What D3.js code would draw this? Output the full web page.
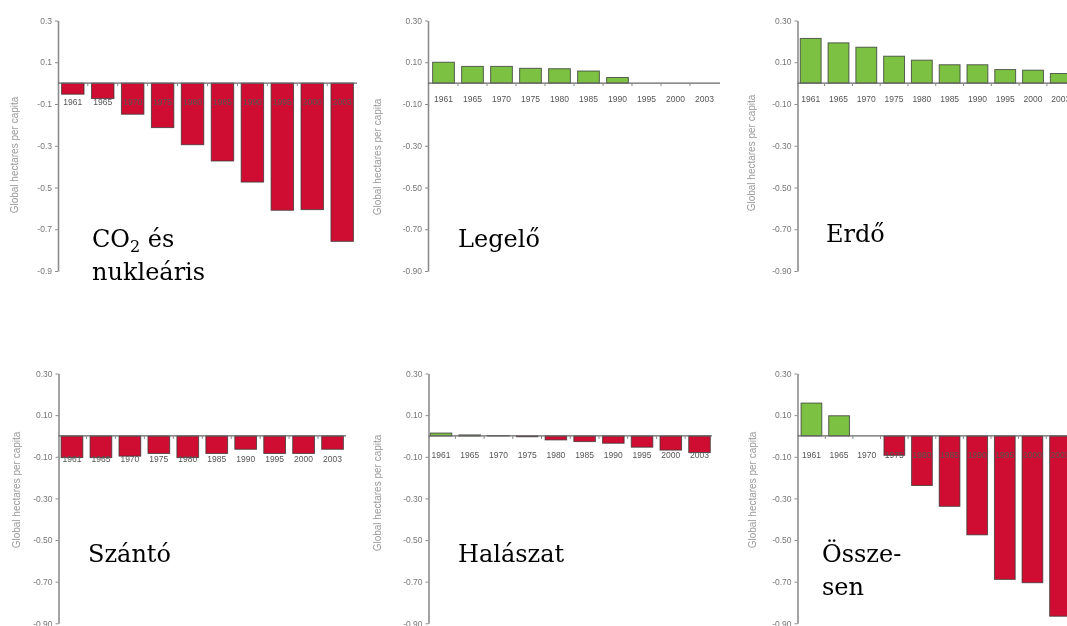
<!DOCTYPE html>
<html>
<head>
<meta charset="utf-8">
<script src="https://cdn.jsdelivr.net/npm/d3@7"></script>
<style>
  html, body { margin: 0; padding: 0; background: #fff; }
  svg { display: block; }
</style>
</head>
<body>
<svg id="chart" width="1067" height="626"></svg>
<script>
// Change in per-capita footprint by component, global hectares per capita
const years = ["1961", "1965", "1970", "1975", "1980", "1985", "1990", "1995", "2000", "2003"];
const yTicks = [0.3, 0.1, -0.1, -0.3, -0.5, -0.7, -0.9];
const axisTitle = "Global hectares per capita";

const co2Nuclear = [-0.053, -0.074, -0.149, -0.213, -0.295, -0.373, -0.474, -0.609, -0.606, -0.758];
const grazing    = [0.100, 0.080, 0.080, 0.071, 0.069, 0.058, 0.027, 0, 0, 0];
const forest     = [0.214, 0.193, 0.172, 0.129, 0.110, 0.088, 0.088, 0.065, 0.062, 0.046];
const cropland   = [-0.104, -0.104, -0.097, -0.084, -0.104, -0.084, -0.064, -0.084, -0.084, -0.064];
const fishing    = [0.014, 0.005, 0.002, -0.004, -0.019, -0.027, -0.035, -0.054, -0.068, -0.080];
const total      = [0.158, 0.097, 0, -0.093, -0.238, -0.338, -0.475, -0.689, -0.705, -0.866];

const captions = [
  ["CO₂ és", "nukleáris"],
  ["Legelő"],
  ["Erdő"],
  ["Szántó"],
  ["Halászat"],
  ["Össze-", "sen"]
];

const RED = "#cf1030";
const GREEN = "#7cc143";

// layout of the six small charts
const layout = [
  { values: co2Nuclear, x0: 58,    x1: 357,  top: 20.5,  bottom: 271,   fmt: ".1f", padOuter: 0.12, titleX: 15,  titleY: 155, yearDy: 20, capX: 92,  capY: 247 },
  { values: grazing,    x0: 428,   x1: 720,  top: 20.5,  bottom: 271,   fmt: ".2f", padOuter: 0.16, titleX: 378, titleY: 157, yearDy: 17, capX: 458, capY: 247 },
  { values: forest,     x0: 797.5, x1: 1074, top: 20.5,  bottom: 271,   fmt: ".2f", padOuter: 0.10, titleX: 752, titleY: 153, yearDy: 17, capX: 826, capY: 242 },
  { values: cropland,   x0: 58.5,  x1: 346,  top: 373.5, bottom: 623.3, fmt: ".2f", padOuter: 0.09, titleX: 17,  titleY: 490, yearDy: 24, capX: 88,  capY: 562 },
  { values: fishing,    x0: 428.5, x1: 712,  top: 373.5, bottom: 623.3, fmt: ".2f", padOuter: 0.06, titleX: 378, titleY: 493, yearDy: 20, capX: 458, capY: 562 },
  { values: total,      x0: 797.5, x1: 1074, top: 373.5, bottom: 623.3, fmt: ".2f", padOuter: 0.13, titleX: 753, titleY: 490, yearDy: 20, capX: 822, capY: 562 }
];

const svg = d3.select("#chart");

svg.append("defs").append("filter")
  .attr("id", "soft")
  .attr("x", "-5%").attr("y", "-5%").attr("width", "110%").attr("height", "110%")
  .append("feGaussianBlur").attr("stdDeviation", 0.55);

layout.forEach((p, i) => {
  const padInner = 0.25;
  const x = d3.scaleBand().domain(years).range([p.x0, p.x1])
    .paddingInner(padInner).paddingOuter(p.padOuter);
  const y = d3.scaleLinear().domain([0.3, -0.9]).range([p.top, p.bottom]);
  const rows = years.map((yr, k) => ({ year: yr, value: p.values[k] }));

  const g = svg.append("g").attr("filter", "url(#soft)");

  // bars
  g.append("g").selectAll("rect")
    .data(rows.filter(d => d.value !== 0))
    .join("rect")
    .attr("x", d => x(d.year))
    .attr("width", x.bandwidth())
    .attr("y", d => y(Math.max(0, d.value)))
    .attr("height", d => Math.abs(y(d.value) - y(0)))
    .attr("fill", d => d.value > 0 ? GREEN : RED)
    .attr("stroke", "#333")
    .attr("stroke-opacity", 0.75)
    .attr("stroke-width", 1);

  // y axis
  const fmt = d3.format(p.fmt);
  const ax = g.append("g")
    .attr("transform", `translate(${p.x0},0)`)
    .call(d3.axisLeft(y).tickValues(yTicks).tickSize(3).tickSizeOuter(0)
      .tickFormat(d => fmt(d).replace("\u2212", "-")));
  ax.select(".domain").attr("stroke", "#8c8c8c").attr("stroke-width", 1.6);
  ax.selectAll(".tick line").attr("stroke", "#8c8c8c");
  ax.selectAll(".tick text")
    .attr("x", -6)
    .attr("fill", "#777")
    .style("font", "8.5px 'Liberation Sans', Arial, sans-serif");

  // zero baseline with category separators
  const y0 = y(0);
  g.append("line")
    .attr("x1", p.x0).attr("x2", p.x1)
    .attr("y1", y0).attr("y2", y0)
    .attr("stroke", "#666").attr("stroke-width", 1.3);
  const step = x.step();
  g.append("g").selectAll("line")
    .data(years.slice(1))
    .join("line")
    .attr("x1", d => x(d) - step * padInner / 2)
    .attr("x2", d => x(d) - step * padInner / 2)
    .attr("y1", y0).attr("y2", y0 + 3)
    .attr("stroke", "#888").attr("stroke-width", 1);

  // year labels
  g.append("g").selectAll("text")
    .data(years)
    .join("text")
    .attr("x", d => x(d) + x.bandwidth() / 2)
    .attr("y", y0 + p.yearDy)
    .attr("text-anchor", "middle")
    .attr("dominant-baseline", "middle")
    .attr("fill", "#555")
    .style("font", "8.5px 'Liberation Sans', Arial, sans-serif")
    .text(d => d);

  // axis title
  g.append("text")
    .attr("transform", `translate(${p.titleX},${p.titleY}) rotate(-90)`)
    .attr("text-anchor", "middle")
    .attr("dominant-baseline", "middle")
    .attr("fill", "#999")
    .style("font", "10px 'Liberation Sans', Arial, sans-serif")
    .text(axisTitle);

  // caption
  const cap = svg.append("text")
    .attr("x", p.capX).attr("y", p.capY)
    .attr("fill", "#000")
    .style("font", "24px 'DejaVu Serif', serif");
  captions[i].forEach((line, li) => {
    const dy = li === 0 ? 0 : 33;
    const parts = line.split("₂");
    const first = cap.append("tspan").attr("x", p.capX).attr("dy", dy).text(parts[0]);
    if (parts.length > 1) {
      cap.append("tspan").attr("dy", 5).style("font-size", "16px").text("2");
      cap.append("tspan").attr("dy", -5).text(parts[1]);
    }
  });
});
</script>
</body>
</html>
